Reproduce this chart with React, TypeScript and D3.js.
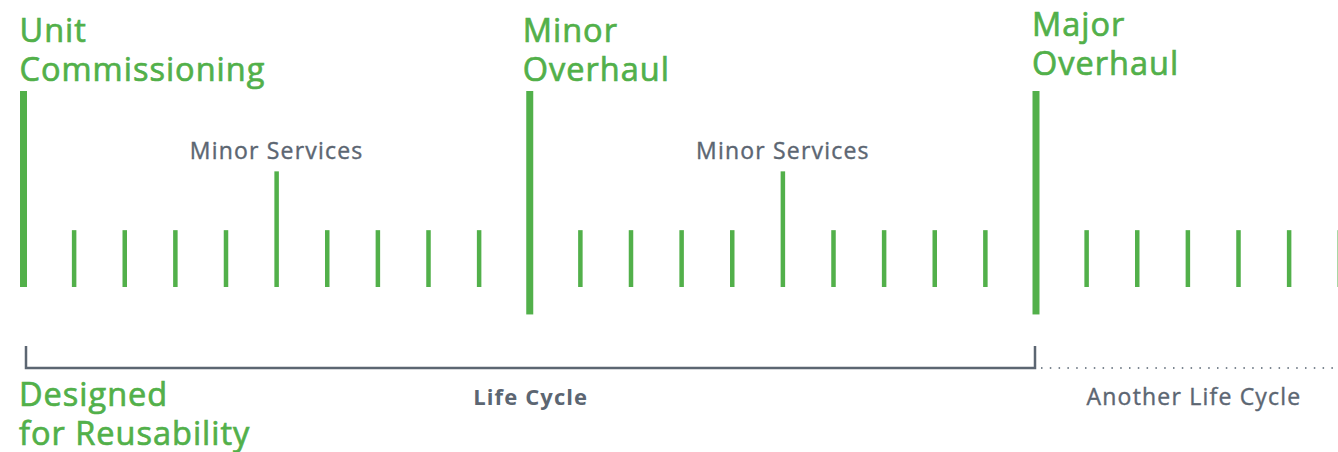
import { useEffect, useRef } from "react";
import * as d3 from "d3";

// tick positions along the service timeline (one step = one service interval)
const tickIndex = d3.range(0, 27);
// tick kinds: "milestone" for commissioning/overhauls, "service" for the mid minor service
const milestoneIndex = [0, 10, 20];
const serviceIndex = [5, 15];
// heights in relative units (milestone = 100)
const smallHeight = 29;
const serviceHeight = 59;
const milestoneHeight = 100;
const overhaulDrop = -14;

const milestoneLabels = [
  ["Unit", "Commissioning"],
  ["Minor", "Overhaul"],
  ["Major", "Overhaul"],
];
const serviceLabels = ["Minor Services", "Minor Services"];
const cycleLabel = "Life Cycle";
const nextCycleLabel = "Another Life Cycle";
const reuseLabel = ["Designed", "for Reusability"];

const GREEN = "#52b04a";
const GRAY = "#5c6672";
const FONT = "'Open Sans', sans-serif";

export default function App() {
  const svgRef = useRef<SVGSVGElement>(null);

  useEffect(() => {
    if (!svgRef.current) return;
    d3.select(svgRef.current).selectAll("*").remove();

    const width = 1338;
    const height = 452;

    const svg = d3
      .select(svgRef.current)
      .attr("width", width)
      .attr("height", height);

    const x = d3.scaleLinear().domain([0, 20]).range([23.5, 1036]);
    const y = d3.scaleLinear().domain([0, milestoneHeight]).range([287, 91]);

    const tickTop = (i: number) =>
      milestoneIndex.includes(i)
        ? milestoneHeight
        : serviceIndex.includes(i)
        ? serviceHeight
        : smallHeight;
    const tickBottom = (i: number) =>
      milestoneIndex.includes(i) && i > 0 ? overhaulDrop : 0;
    const tickWidth = (i: number) => (milestoneIndex.includes(i) ? 7 : 4.5);

    // Ticks
    svg
      .append("g")
      .selectAll("rect")
      .data(tickIndex)
      .enter()
      .append("rect")
      .attr("x", (d) => x(d) - tickWidth(d) / 2)
      .attr("y", (d) => y(tickTop(d)))
      .attr("width", (d) => tickWidth(d))
      .attr("height", (d) => y(tickBottom(d)) - y(tickTop(d)))
      .attr("fill", GREEN);

    // green heading, one text per line
    const greenLines = (lines: string[], lx: number, ly: number) => {
      lines.forEach((line, j) => {
        svg
          .append("text")
          .attr("x", lx)
          .attr("y", ly + j * 38.5)
          .attr("fill", GREEN)
          .attr("stroke", GREEN)
          .attr("stroke-width", 0.7)
          .style("font-family", FONT)
          .style("font-size", "32.5px")
          .style("letter-spacing", "1px")
          .text(line);
      });
    };

    // Milestone labels
    const yOffsets = [0, 0, -6];
    const xOffsets = [-4, -7, -4];
    milestoneLabels.forEach((lines, k) => {
      greenLines(lines, x(milestoneIndex[k]) + xOffsets[k], 42 + yOffsets[k]);
    });

    // Minor service labels
    svg
      .selectAll("text.svc")
      .data(serviceIndex)
      .enter()
      .append("text")
      .attr("class", "svc")
      .attr("x", (d) => x(d))
      .attr("y", 159)
      .attr("text-anchor", "middle")
      .attr("fill", GRAY)
      .attr("stroke", GRAY)
      .attr("stroke-width", 0.4)
      .style("font-family", FONT)
      .style("font-size", "23px")
      .style("letter-spacing", "1.2px")
      .text((_, i) => serviceLabels[i]);

    // Life cycle bracket
    const x0 = x(0) + 2.5;
    const x1 = x(20) - 1;
    svg
      .append("path")
      .attr("d", `M${x0},346 V368 H${x1} V346`)
      .attr("fill", "none")
      .attr("stroke", GRAY)
      .attr("stroke-width", 2.5);

    // next life cycle, dotted
    svg
      .append("line")
      .attr("x1", x1 + 6)
      .attr("x2", width)
      .attr("y1", 368)
      .attr("y2", 368)
      .attr("stroke", "#7d8791")
      .attr("stroke-width", 2)
      .attr("stroke-dasharray", "1.5 7.3");

    svg
      .append("text")
      .attr("x", x(10) + 1)
      .attr("y", 405)
      .attr("text-anchor", "middle")
      .attr("fill", GRAY)
      .style("font-family", FONT)
      .style("font-size", "22px")
      .style("font-weight", 700)
      .style("letter-spacing", "1.1px")
      .text(cycleLabel);

    svg
      .append("text")
      .attr("x", 1194)
      .attr("y", 405)
      .attr("text-anchor", "middle")
      .attr("fill", GRAY)
      .attr("stroke", GRAY)
      .attr("stroke-width", 0.4)
      .style("font-family", FONT)
      .style("font-size", "23px")
      .style("letter-spacing", "1.2px")
      .text(nextCycleLabel);

    greenLines(reuseLabel, 19, 406);
  }, []);

  return (
    <div style={{ position: "absolute", left: 0, top: 0 }}>
      <svg ref={svgRef} style={{ display: "block" }}></svg>
    </div>
  );
}
